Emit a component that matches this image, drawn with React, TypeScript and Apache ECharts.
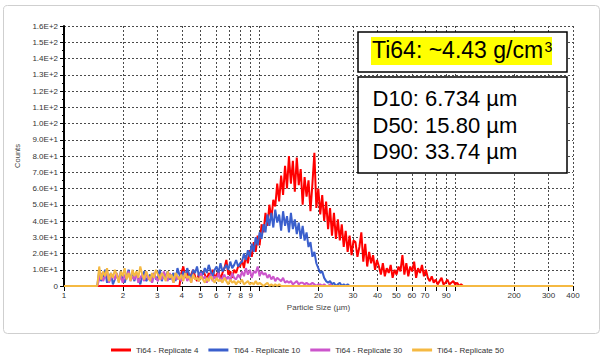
import React, { useEffect, useRef } from "react";
import * as echarts from "echarts";

// ---- Data ----
const SERIES_NAMES = [
  "Ti64 - Replicate 4",
  "Ti64 - Replicate 10",
  "Ti64 - Replicate 30",
  "Ti64 - Replicate 50",
];

// Instrument channels are log-spaced: each value below is one channel,
// channel i sits at 10^(startLog + i * CHANNEL_STEP) µm.
const CHANNEL_STEP = 0.01;
const RED_START_LOG = 0.6;
const LOW_START_LOG = 0.18;

const replicate4 = [
  8, 12, 5, 9, 4, 7, 10, 6, 3, 8, 5, 9, 7, 4, 8, 6, 10, 5, 7, 9, 4, 8, 11, 16, 7, 9, 5, 10, 8, 12,
  12,
  16, 11, 19, 14, 22, 18, 27, 21, 31, 25,
  38, 33, 45, 37, 50, 41, 53,
  49, 63, 52, 68, 56,
  74, 60, 80, 63, 77, 58, 79, 62, 72,
  50, 67, 55, 65, 46, 63, 82, 48, 60, 44,
  56, 40, 52, 35, 48, 31, 45, 29, 41, 28,
  38, 24, 34, 21, 31, 19, 28,
  27, 18, 24, 33, 15, 26, 12, 21, 14, 19, 10, 16,
  12, 7, 14, 6, 11, 8, 13, 5, 10, 7,
  12, 9, 19, 7, 14, 6, 12, 9, 15, 5, 11, 8, 13, 6, 10, 5,
  3, 6, 2, 4, 1, 3, 5, 1, 2, 4, 1, 2, 3, 1,
  2, 0, 1, 0, 0,
];

const replicate10 = [
  9, 3, 6, 10, 2, 5, 8, 1, 4, 7, 3, 9, 5, 2, 6, 10, 4, 7, 3, 8, 5, 1, 6, 9, 3, 5, 7, 2, 8, 4, 6, 10, 3, 7, 5, 9, 4, 6, 8, 3, 11, 7, 5,
  9, 6, 11, 7, 5, 10, 8, 12, 6, 9, 7, 11, 8, 13, 9, 6, 10, 12, 8, 14, 9, 11, 13, 10, 15, 11, 13, 16, 12, 14,
  15, 20, 16, 22, 18,
  26, 21, 30, 25, 33,
  29, 38, 33, 44, 37,
  45, 36, 47, 39, 44, 34, 46, 37, 43, 33, 45, 35,
  41, 32, 39, 29, 37, 28, 33,
  24, 27, 18, 21, 14,
  11, 8, 9, 5, 3,
  2, 3, 1, 2, 0, 1, 2, 0, 1, 0, 1, 0, 0, 0,
];

const replicate30 = [
  4, 8, 3, 6, 9, 2, 5, 7, 4, 8, 3, 6, 2, 7, 5, 9, 3, 6, 4, 8, 2, 5, 7, 3, 9, 4, 6, 2, 8, 5, 3, 7, 4, 9, 6, 3, 8, 5, 2, 7, 4, 6, 3,
  5, 8, 3, 6, 2, 7, 4, 5, 3, 8, 4, 6, 2, 5, 7, 3, 6, 4, 8, 3, 5, 7, 4, 6, 3, 8, 5, 4, 7, 5,
  9, 6, 11, 7, 10, 5, 9, 8, 12, 6, 9, 7,
  8, 5, 7, 4, 6, 3, 5, 4, 3, 5, 2,
  3, 2, 3, 1, 2, 3, 1, 2, 2, 1, 2, 1, 1, 2, 1, 0, 1,
  1, 0, 1, 0, 0, 1, 0, 0, 0, 0,
];

const replicate50 = [
  12, 4, 9, 6, 11, 3, 8, 5, 10, 7, 2, 9, 6, 11, 4, 8, 3, 10, 6, 9, 5, 12, 7, 4, 9, 6, 3, 8, 5, 10, 7,
  4, 8, 6, 3, 9, 5, 7, 2, 8, 6, 4, 7, 3, 8, 5, 6, 2, 7, 4, 5, 3, 6, 4, 2, 5, 3, 6, 4, 2, 5,
  3, 4, 2, 5, 3, 1, 4, 2, 3, 1, 3, 2, 4, 1, 2, 3, 1, 2, 1, 3, 1, 2,
  1, 0, 1, 2, 0, 1, 0, 1, 0, 1, 0, 0, 0,
];

const X_MIN = 1;
const X_MAX = 400;
const X_TICKS = [1, 2, 3, 4, 5, 6, 7, 8, 9, 10, 20, 30, 40, 50, 60, 70, 80, 90, 100, 200, 300, 400];
const X_LABELS = [1, 2, 3, 4, 5, 6, 7, 8, 9, 20, 30, 40, 50, 60, 70, 90, 200, 300, 400];
const Y_MAX = 160;
const Y_STEP = 10;

const DENSITY_TITLE = "Ti64: ~4.43 g/cm";
const DENSITY_SUP = "3";
const D_LINES = ["D10: 6.734 µm", "D50: 15.80 µm", "D90: 33.74 µm"];

const COLORS = ["#ff0000", "#3a5fcd", "#cc55cc", "#f5b942"];
const FONT = "'Liberation Sans', Arial, sans-serif";

function toPairs(startLog: number, values: number[]) {
  const pts: number[][] = [[X_MIN, 0]];
  pts.push([Math.pow(10, startLog - CHANNEL_STEP), 0]);
  values.forEach((v, i) => pts.push([Math.pow(10, startLog + i * CHANNEL_STEP), v]));
  pts.push([Math.pow(10, startLog + values.length * CHANNEL_STEP), 0]);
  pts.push([X_MAX, 0]);
  return pts;
}

export default function App() {
  const ref = useRef<HTMLDivElement>(null);

  useEffect(() => {
    if (!ref.current) return;
    const chart = echarts.init(ref.current, undefined, { renderer: "svg" });
    const seriesData = [
      toPairs(RED_START_LOG, replicate4),
      toPairs(LOW_START_LOG, replicate10),
      toPairs(LOW_START_LOG, replicate30),
      toPairs(LOW_START_LOG, replicate50),
    ];
    const gridLine = { color: "#4a4a4a", type: [2, 2] as any, width: 1 };
    chart.setOption({
      animation: false,
      textStyle: { fontFamily: FONT },
      grid: { left: 64, right: 33, top: 26, bottom: 75, containLabel: false, outerBoundsMode: "none" },
      legend: {
        data: SERIES_NAMES,
        left: 111,
        top: 346,
        icon: "rect",
        itemWidth: 20,
        itemHeight: 3,
        itemGap: 10,
        padding: 0,
        textStyle: { fontSize: 8, color: "#333", fontFamily: FONT },
      },
      xAxis: {
        type: "log",
        logBase: 10,
        min: X_MIN,
        max: X_MAX,
        name: "Particle Size (µm)",
        nameLocation: "middle",
        nameGap: 17,
        nameTextStyle: { fontSize: 8, color: "#444", fontFamily: FONT },
        axisLine: { show: true, lineStyle: { color: "#000", width: 1 } },
        axisTick: { show: true, customValues: X_TICKS, length: 5, lineStyle: { color: "#000" } },
        minorTick: { show: false },
        axisLabel: {
          customValues: X_LABELS,
          fontSize: 8,
          color: "#333",
          margin: 5,
          formatter: (v: number) => String(Math.round(v)),
        },
        splitLine: { show: true, lineStyle: gridLine },
      },
      yAxis: {
        type: "value",
        min: 0,
        max: Y_MAX,
        interval: Y_STEP,
        name: "Counts",
        nameLocation: "middle",
        nameGap: 40,
        nameTextStyle: { fontSize: 7.5, color: "#444", fontFamily: FONT },
        axisLine: { show: true, lineStyle: { color: "#000", width: 2 } },
        axisTick: { show: true, length: 4, lineStyle: { color: "#000" } },
        minorTick: { show: true, splitNumber: 2, length: 2, lineStyle: { color: "#000" } },
        axisLabel: {
          fontSize: 8,
          color: "#333",
          margin: 6,
          formatter: (v: number) => (v === 0 ? "0" : v.toExponential(1).toUpperCase()),
        },
        splitLine: { show: true, lineStyle: gridLine },
      },
      series: SERIES_NAMES.map((name, k) => ({
        name,
        type: "line",
        data: seriesData[k],
        showSymbol: false,
        symbol: "none",
        color: COLORS[k],
        lineStyle: { width: 2, color: COLORS[k] },
        z: 2 + k,
      })),
      graphic: [
        {
          type: "rect",
          silent: true,
          z: -10,
          shape: { x: 3.5, y: 5.5, width: 596, height: 328, r: 4 },
          style: { fill: "none", stroke: "#cfcfcf", lineWidth: 1 },
        },
        {
          type: "rect",
          z: 100,
          shape: { x: 358, y: 32, width: 209, height: 40 },
          style: { fill: "#fff", stroke: "#000", lineWidth: 1.5 },
        },
        {
          type: "rect",
          z: 101,
          shape: { x: 371, y: 37, width: 181, height: 28 },
          style: { fill: "#ffff00" },
        },
        {
          type: "text",
          z: 102,
          x: 372,
          y: 49.5,
          style: { text: DENSITY_TITLE, fontSize: 23, fontFamily: FONT, fill: "#000", verticalAlign: "middle" },
        },
        {
          type: "text",
          z: 102,
          x: 544.5,
          y: 46.5,
          style: { text: DENSITY_SUP, fontSize: 14, fontFamily: FONT, fill: "#000", verticalAlign: "middle" },
        },
        {
          type: "rect",
          z: 100,
          shape: { x: 358, y: 77, width: 209, height: 96 },
          style: { fill: "#fff", stroke: "#000", lineWidth: 1.5 },
        },
        ...D_LINES.map((t, i) => ({
          type: "text",
          z: 102,
          x: 372.5,
          y: 98.5 + i * 26.7,
          style: { text: t, fontSize: 22, fontFamily: FONT, fill: "#000", verticalAlign: "middle" },
        })),
      ],
    });
    return () => chart.dispose();
  }, []);

  return (
    <div
      ref={ref}
      style={{ position: "absolute", left: 0, top: 0, width: 606, height: 361, background: "#fff" }}
    />
  );
}
